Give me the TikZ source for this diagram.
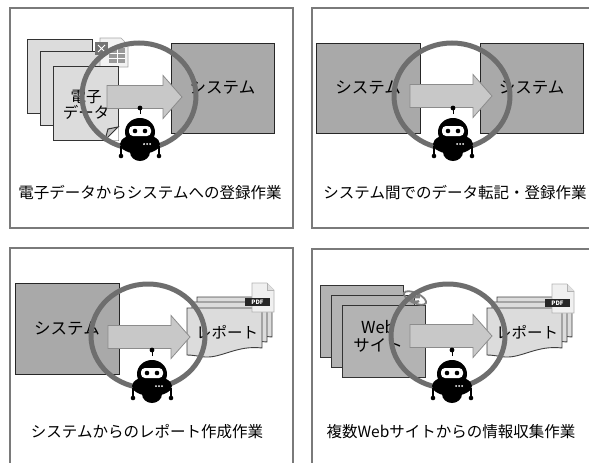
\documentclass[tikz,border=0pt]{standalone}
\usepackage{fontspec}
\setmainfont{Noto Sans CJK JP}
\usetikzlibrary{positioning}

\definecolor{framegray}{HTML}{7A7A7A}
\definecolor{sysgray}{HTML}{A9A9A9}
\definecolor{pagegray}{HTML}{DCDCDC}
\definecolor{webgray}{HTML}{B3B3B3}
\definecolor{arrowgray}{HTML}{C8C8C8}
\definecolor{ringgray}{HTML}{6E6E6E}

\tikzset{
    robot/.pic={
        \draw[black, line width=1pt] (0,-24) -- (0,-29);
        \fill[black] (0,-30) circle [radius=2.4];
        \fill[black] (0,-6) ellipse [x radius=15, y radius=14];
        \fill[black] (0,6) ellipse [x radius=20, y radius=10];
        \fill[black] (0,14) ellipse [x radius=10, y radius=9];
        \draw[black, line width=2.2pt] (-19,8) -- (-19,17);
        \draw[black, line width=2.2pt] (19,8) -- (19,17);
        \fill[black] (-19,18) circle [radius=2.3];
        \fill[black] (19,18) circle [radius=2.3];
        \fill[white, rounded corners=4pt] (-11,-12) rectangle (11,-2);
        \fill[black] (-5,-7) circle [radius=2.3];
        \fill[black] (5,-7) circle [radius=2.3];
        \fill[white] (4,6) circle [radius=1];
        \fill[white] (7,6) circle [radius=1];
        \fill[white] (10,6) circle [radius=1];
    },
    flowarrow/.pic={
        \draw[draw=black!45, fill=arrowgray, line width=0.8pt]
            (0,-11.5) -- (#1-19,-11.5) -- (#1-19,-21.5) -- (#1,0)
            -- (#1-19,21.5) -- (#1-19,11.5) -- (0,11.5) -- cycle;
    },
    reportpage/.pic={
        \draw[draw=black!75, line width=0.9pt, fill=pagegray]
            (0,0) -- (75,0) -- (75,40)
            .. controls (50,37) and (35,50) .. (18,49)
            .. controls (10,48) and (5,47) .. (0,47) -- cycle;
    },
    pdficon/.pic={
        \draw[draw=black!30, fill=black!6, line width=0.6pt]
            (7,0) -- (22,0) -- (29,7) -- (29,29) -- (7,29) -- cycle;
        \draw[draw=black!30, fill=black!12, line width=0.6pt]
            (22,0) -- (22,7) -- (29,7);
        \fill[black!85] (0,15) rectangle (25,23);
        \node[text=white, font=\bfseries\fontsize{6}{6}\selectfont, inner sep=0pt]
            at (12.5,19) {PDF};
    },
    xlsicon/.pic={
        \draw[draw=black!35, fill=black!5, line width=0.6pt]
            (5,0) -- (26,0) -- (33,7) -- (33,29) -- (5,29) -- cycle;
        \fill[black!40] (14,10) rectangle (30,25);
        \draw[white, line width=0.8pt] (14,15) -- (30,15) (14,20) -- (30,20) (22,10) -- (22,25);
        \fill[black!55] (0,4) rectangle (13,17);
        \draw[white, line width=1pt] (3,7) -- (10,14) (10,7) -- (3,14);
    },
    webicon/.pic={
        \node[text=black!50, font=\bfseries\fontsize{20}{20}\selectfont, inner sep=0pt]
            (e) at (0,0) {e};
        \draw[black!50, line width=1.8pt, rotate=-25] (0,0) ellipse [x radius=12, y radius=5];
    }
}

\begin{document}
\begin{tikzpicture}[x=1pt, y=-1pt,
    panel/.style={draw=framegray, line width=1.3pt},
    sysbox/.style={draw=black!85, line width=1pt, fill=sysgray, inner sep=0pt,
                   font=\fontsize{16.5}{18}\selectfont},
    docpage/.style={draw=black!80, line width=1pt, fill=pagegray, inner sep=0pt,
                    minimum width=65pt, minimum height=74pt},
    webpage/.style={draw=black!80, line width=1pt, fill=webgray, inner sep=0pt,
                    minimum width=83pt, minimum height=72pt},
    label/.style={inner sep=0pt, align=center, text=black,
                  font=\fontsize{15.5}{17}\selectfont},
    caption/.style={inner sep=0pt, text=black, font=\fontsize{15.5}{17}\selectfont},
    ring/.style={draw=ringgray, line width=5pt}]

    \useasboundingbox (0,0) rectangle (589,463);
    \clip (0,0) rectangle (589,463);

    % panel frames
    \draw[panel] (10,8) rectangle (293,228);
    \draw[panel] (312,8) rectangle (600,228);
    \draw[panel] (10,248) rectangle (293,480);
    \draw[panel] (312,249) rectangle (600,480);

    % electronic data -> system
    \node[docpage] (d1) at (59.5,76) {};
    \node[docpage] (d2) at (73,88) {};
    \pic at (95,38) {xlsicon};
    \node[docpage] (d3) at (85.5,103) {};
    \fill[white] (118.5,127) -- (118.5,140.5) -- (105,140.5) -- cycle;
    \draw[draw=black!80, line width=1pt, fill=black!25]
        (118,127) -- (105,140) -- (108,129) -- cycle;
    \node[label, font=\fontsize{15.5}{15.5}\selectfont] (dlbl) at (86,105) {電子\\データ};
    \node[sysbox, minimum width=103pt, minimum height=90pt] (sys1) at (222.5,88) {システム};
    \pic at (107,97) {flowarrow=75};
    \draw[ring] (139,96) ellipse [x radius=57, y radius=53];
    \pic at (140,138) {robot};
    \node[caption] (cap1) at (150,193) {電子データからシステムへの登録作業};

    % system -> system
    \node[sysbox, minimum width=104pt, minimum height=90pt] (sys2a) at (368,88) {システム};
    \node[sysbox, minimum width=103pt, minimum height=90pt] (sys2b) at (531.5,88) {システム};
    \pic at (410,96) {flowarrow=82};
    \draw[ring] (452,96) ellipse [x radius=58, y radius=53];
    \pic at (453,138) {robot};
    \node[caption] (cap2) at (455,193) {システム間でのデータ転記・登録作業};

    % system -> report
    \node[sysbox, minimum width=104pt, minimum height=91pt] (sys3) at (67,328.5) {システム};
    \pic at (197,297) {reportpage};
    \pic at (192,302) {reportpage};
    \pic at (187,308) {reportpage};
    \node[label] (rep3) at (227,332) {レポート};
    \pic at (245,283) {pdficon};
    \pic at (108,337) {flowarrow=82};
    \draw[ring] (148,336) ellipse [x radius=57, y radius=52];
    \pic at (152,380) {robot};
    \node[caption] (cap3) at (147,432) {システムからのレポート作成作業};

    % web sites -> report
    \node[webpage] (w1) at (361.5,321) {};
    \node[webpage] (w2) at (372.5,331) {};
    \node[webpage] (w3) at (383.5,341) {};
    \pic at (415,298) {webicon};
    \node[label, font=\fontsize{16.5}{18}\selectfont] (wlbl) at (378,336) {Web\\サイト};
    \pic at (497,297) {reportpage};
    \pic at (492,302) {reportpage};
    \pic at (487,308) {reportpage};
    \node[label] (rep4) at (527,332) {レポート};
    \pic at (545,284) {pdficon};
    \pic at (410,336) {flowarrow=82};
    \draw[ring] (448,336) ellipse [x radius=57, y radius=52];
    \pic at (452,380) {robot};
    \node[caption] (cap4) at (451,432) {複数Webサイトからの情報収集作業};
\end{tikzpicture}
\end{document}
